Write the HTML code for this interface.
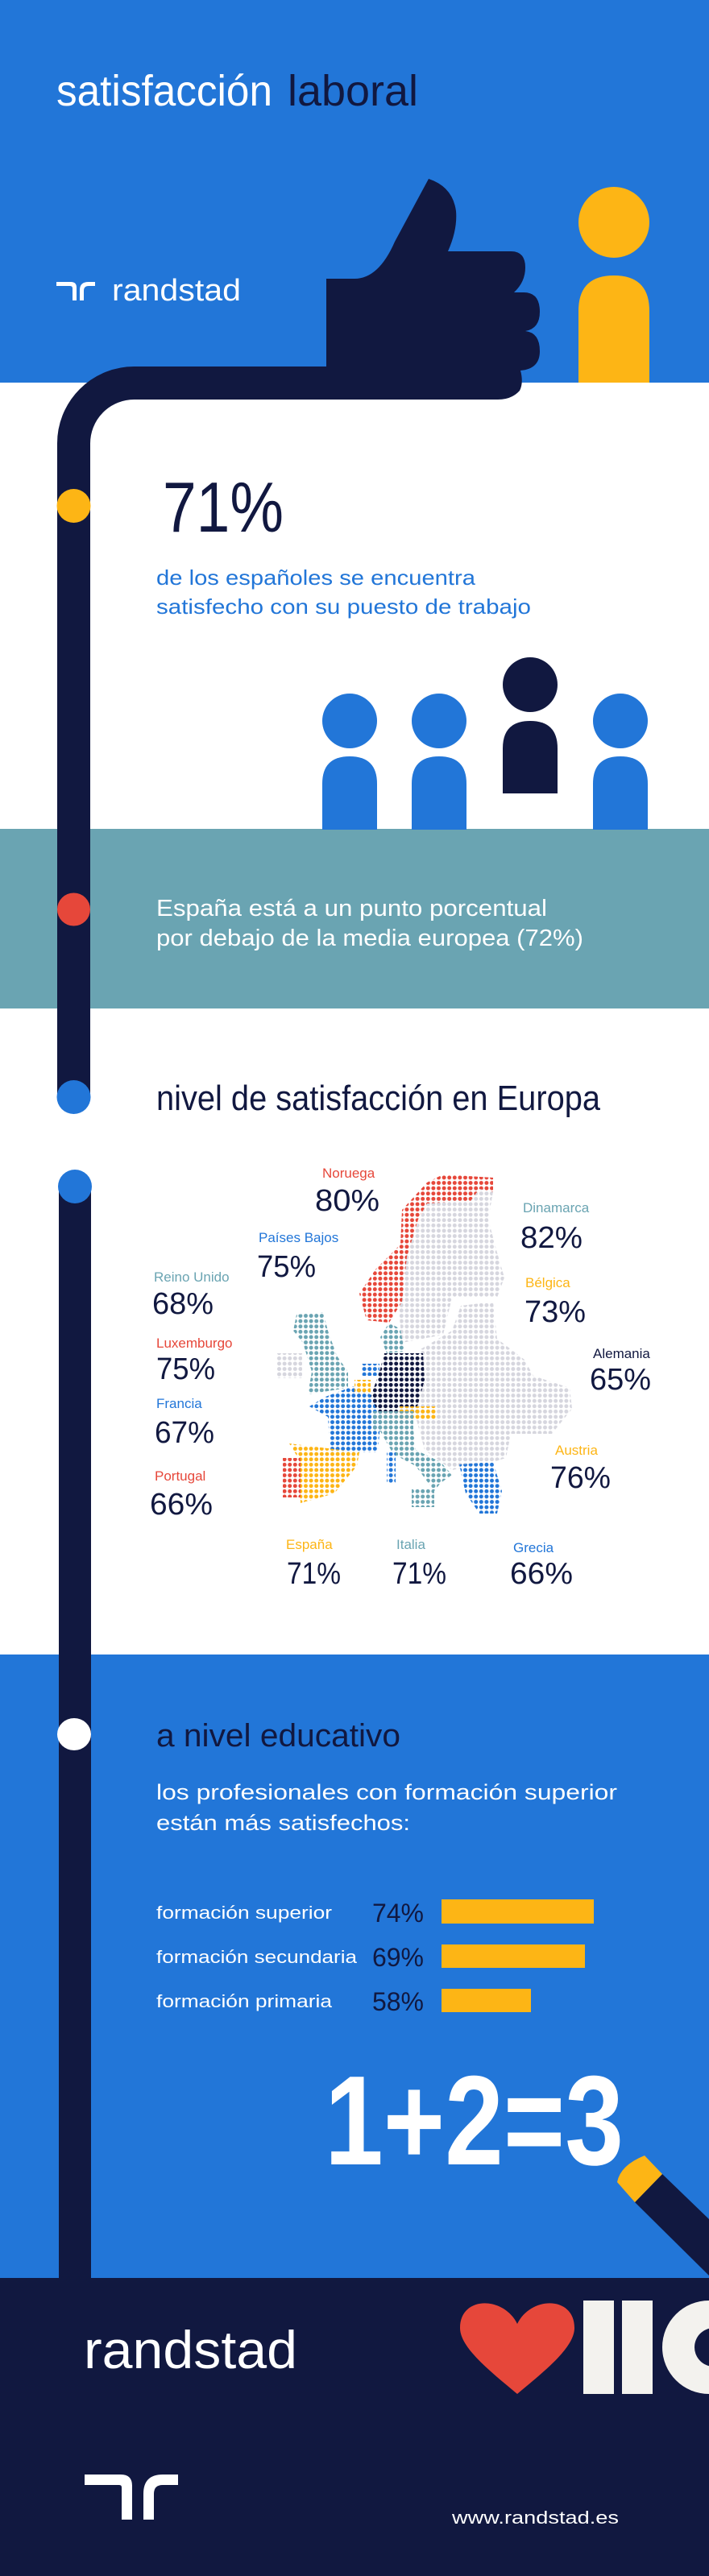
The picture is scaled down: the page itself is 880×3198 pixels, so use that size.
<!DOCTYPE html>
<html><head><meta charset="utf-8"><style>html,body{margin:0;padding:0;background:#fff}svg{display:block}</style></head><body>
<svg width="880" height="3198" viewBox="0 0 880 3198" xmlns="http://www.w3.org/2000/svg" font-family="Liberation Sans, sans-serif">
<defs>
<pattern id="pg" width="6.6" height="6.6" patternUnits="userSpaceOnUse"><circle cx="3.3" cy="3.3" r="2.5" fill="#d6d6de"/></pattern>
<pattern id="pr" width="6.6" height="6.6" patternUnits="userSpaceOnUse"><circle cx="3.3" cy="3.3" r="2.5" fill="#e6473a"/></pattern>
<pattern id="pt" width="6.6" height="6.6" patternUnits="userSpaceOnUse"><circle cx="3.3" cy="3.3" r="2.5" fill="#6aa4b2"/></pattern>
<pattern id="pb" width="6.6" height="6.6" patternUnits="userSpaceOnUse"><circle cx="3.3" cy="3.3" r="2.5" fill="#2276d8"/></pattern>
<pattern id="py" width="6.6" height="6.6" patternUnits="userSpaceOnUse"><circle cx="3.3" cy="3.3" r="2.5" fill="#fdb515"/></pattern>
<pattern id="pn" width="6.6" height="6.6" patternUnits="userSpaceOnUse"><circle cx="3.3" cy="3.3" r="2.5" fill="#111840"/></pattern>
</defs>
<!-- section backgrounds -->
<rect x="0" y="0" width="880" height="475" fill="#2276d8"/>
<rect x="0" y="1029" width="880" height="223" fill="#6aa4b2"/>
<rect x="0" y="2054" width="880" height="774" fill="#2276d8"/>
<rect x="0" y="2828" width="880" height="370" fill="#111840"/>

<!-- header -->
<text x="70" y="131" font-size="54" fill="#fff" textLength="268" lengthAdjust="spacingAndGlyphs">satisfacción</text>
<text x="357" y="131" font-size="54" fill="#111840" textLength="162" lengthAdjust="spacingAndGlyphs">laboral</text>
<g fill="#fff">
<path d="M70,350 H88 Q95,350 95,357 V373 H90 V358 Q90,355 87,355 H70 Z"/>
<path d="M99,373 V360 Q99,350 110,350 H118 V355 H110 Q104,355 104,361 V373 Z"/>
</g>
<text x="139" y="373" font-size="38" fill="#fff" textLength="160" lengthAdjust="spacingAndGlyphs">randstad</text>

<!-- yellow person -->
<circle cx="762" cy="276" r="44" fill="#fdb515"/>
<path d="M718,475 V386 Q718,342 762,342 Q806,342 806,386 V475 Z" fill="#fdb515"/>

<!-- bar + arm -->
<path d="M91.5,1363 V551 A75,75 0 0 1 166.5,475.5 H440" stroke="#111840" stroke-width="41" fill="none"/>
<path d="M405,346 H440 Q470,346 490,300 L532,222 Q562,232 566,262 Q568,285 556,312 H634 Q652,312 652,332 Q652,350 638,363 H650 Q670,363 670,387 Q670,408 652,411 Q670,413 670,436 Q670,458 646,460 Q650,475 645,485 Q635,496 618,496 H405 Z" fill="#111840"/>
<circle cx="91.5" cy="628" r="21" fill="#fdb515"/>

<!-- 71% -->
<text x="202" y="660" font-size="88" fill="#111840" textLength="150" lengthAdjust="spacingAndGlyphs">71%</text>
<text x="194" y="726" font-size="26" fill="#2276d8" textLength="396" lengthAdjust="spacingAndGlyphs">de los españoles se encuentra</text>
<text x="194" y="762" font-size="26" fill="#2276d8" textLength="465" lengthAdjust="spacingAndGlyphs">satisfecho con su puesto de trabajo</text>

<!-- people -->
<g fill="#2276d8">
<circle cx="434" cy="895" r="34"/><path d="M400,1030 V973 Q400,939 434,939 Q468,939 468,973 V1030 Z"/>
<circle cx="545" cy="895" r="34"/><path d="M511,1030 V973 Q511,939 545,939 Q579,939 579,973 V1030 Z"/>
<circle cx="770" cy="895" r="34"/><path d="M736,1030 V973 Q736,939 770,939 Q804,939 804,973 V1030 Z"/>
</g>
<g fill="#111840">
<circle cx="658" cy="850" r="34"/><path d="M624,985 V929 Q624,895 658,895 Q692,895 692,929 V985 Z"/>
</g>

<!-- teal text -->
<rect x="71" y="1029" width="41" height="223" fill="#111840"/>
<circle cx="91.5" cy="1129" r="20.5" fill="#e6473a"/>
<text x="194" y="1137" font-size="29" fill="#fff" textLength="485" lengthAdjust="spacingAndGlyphs">España está a un punto porcentual</text>
<text x="194" y="1174" font-size="29" fill="#fff" textLength="530" lengthAdjust="spacingAndGlyphs">por debajo de la media europea (72%)</text>

<circle cx="91.5" cy="1362" r="21" fill="#2276d8"/>
<text x="194" y="1378" font-size="44" fill="#111840" textLength="551" lengthAdjust="spacingAndGlyphs">nivel de satisfacción en Europa</text>

<!-- second bar -->
<rect x="73" y="1470" width="40" height="1358" fill="#111840"/>
<circle cx="93" cy="1473" r="21" fill="#2276d8"/>

<!-- map -->
<polygon fill="url(#pg)" points="527,1491 589,1473 612,1479 606,1514 617,1555 626,1586 617,1611 561,1611 550,1657 499,1667 494,1616 502,1555 525,1504"/>
<polygon fill="url(#pg)" points="522,1675 561,1652 572,1621 612,1616 617,1662 651,1688 662,1708 707,1723 710,1749 685,1780 634,1780 628,1810 612,1815 561,1825 527,1800 516,1759 527,1708"/>
<rect x="343" y="1680" width="32" height="31" fill="url(#pg)"/>
<polygon fill="url(#pr)" points="550,1458 612,1462 612,1480 595,1476 584,1491 530,1494 519,1514 505,1560 499,1616 483,1642 455,1639 446,1606 466,1576 497,1545 499,1502 530,1468"/>
<polygon fill="url(#pt)" points="368,1632 401,1629 407,1652 418,1683 432,1703 432,1723 382,1731 387,1703 376,1667 364,1652"/>
<polygon fill="url(#pt)" points="483,1642 497,1650 502,1678 480,1680 472,1660"/>
<polygon fill="url(#pb)" points="449,1693 471,1693 471,1708 449,1708"/>
<polygon fill="url(#pb)" points="384,1746 404,1734 438,1721 466,1734 474,1754 471,1780 469,1803 410,1803 407,1759"/>
<rect x="440" y="1713" width="20" height="16" fill="url(#py)"/>
<polygon fill="url(#pn)" points="477,1680 525,1680 527,1713 516,1754 471,1757 460,1734 471,1703"/>
<rect x="494" y="1746" width="47" height="16" fill="url(#py)"/>
<rect x="463" y="1752" width="50" height="25" fill="url(#pt)"/>
<polygon fill="url(#pt)" points="471,1775 513,1775 516,1800 547,1815 561,1831 547,1841 539,1851 516,1820 488,1805"/>
<rect x="511" y="1848" width="28" height="23" fill="url(#pt)"/>
<rect x="480" y="1803" width="11" height="38" fill="url(#pb)"/>
<polygon fill="url(#pb)" points="570,1818 612,1815 623,1851 617,1879 595,1879 578,1854"/>
<polygon fill="url(#py)" points="359,1792 446,1803 443,1820 415,1854 373,1866 370,1810"/>
<rect x="351" y="1810" width="22" height="49" fill="url(#pr)"/>

<!-- map labels -->
<g font-size="17">
<text x="400" y="1462" fill="#e6473a">Noruega</text>
<text x="649" y="1505" fill="#6aa4b2">Dinamarca</text>
<text x="321" y="1542" fill="#2276d8">Países Bajos</text>
<text x="652" y="1598" fill="#fdb515">Bélgica</text>
<text x="191" y="1591" fill="#6aa4b2">Reino Unido</text>
<text x="736" y="1686" fill="#111840">Alemania</text>
<text x="194" y="1673" fill="#e6473a">Luxemburgo</text>
<text x="194" y="1748" fill="#2276d8">Francia</text>
<text x="689" y="1806" fill="#fdb515">Austria</text>
<text x="192" y="1838" fill="#e6473a">Portugal</text>
<text x="355" y="1923" fill="#fdb515">España</text>
<text x="492" y="1923" fill="#6aa4b2">Italia</text>
<text x="637" y="1927" fill="#2276d8">Grecia</text>
</g>
<g font-size="38" fill="#111840">
<text x="391" y="1503" textLength="80" lengthAdjust="spacingAndGlyphs">80%</text>
<text x="646" y="1549" textLength="77" lengthAdjust="spacingAndGlyphs">82%</text>
<text x="319" y="1585" textLength="73" lengthAdjust="spacingAndGlyphs">75%</text>
<text x="651" y="1641" textLength="76" lengthAdjust="spacingAndGlyphs">73%</text>
<text x="189" y="1631" textLength="76" lengthAdjust="spacingAndGlyphs">68%</text>
<text x="732" y="1725" textLength="76" lengthAdjust="spacingAndGlyphs">65%</text>
<text x="194" y="1712" textLength="73" lengthAdjust="spacingAndGlyphs">75%</text>
<text x="192" y="1791" textLength="74" lengthAdjust="spacingAndGlyphs">67%</text>
<text x="683" y="1847" textLength="75" lengthAdjust="spacingAndGlyphs">76%</text>
<text x="186" y="1880" textLength="78" lengthAdjust="spacingAndGlyphs">66%</text>
<text x="356" y="1966" textLength="67" lengthAdjust="spacingAndGlyphs">71%</text>
<text x="487" y="1966" textLength="67" lengthAdjust="spacingAndGlyphs">71%</text>
<text x="633" y="1966" textLength="78" lengthAdjust="spacingAndGlyphs">66%</text>
</g>

<!-- education -->
<ellipse cx="92" cy="2153" rx="21" ry="20" fill="#fff"/>
<text x="194" y="2168" font-size="40" fill="#111840" textLength="303" lengthAdjust="spacingAndGlyphs">a nivel educativo</text>
<text x="194" y="2234" font-size="27" fill="#fff" textLength="572" lengthAdjust="spacingAndGlyphs">los profesionales con formación superior</text>
<text x="194" y="2272" font-size="27" fill="#fff" textLength="315" lengthAdjust="spacingAndGlyphs">están más satisfechos:</text>
<g font-size="22" fill="#fff">
<text x="194" y="2382" textLength="218" lengthAdjust="spacingAndGlyphs">formación superior</text>
<text x="194" y="2437" textLength="249" lengthAdjust="spacingAndGlyphs">formación secundaria</text>
<text x="194" y="2492" textLength="218" lengthAdjust="spacingAndGlyphs">formación primaria</text>
</g>
<g font-size="32" fill="#111840" text-anchor="end">
<text x="526" y="2386">74%</text>
<text x="526" y="2441">69%</text>
<text x="526" y="2496">58%</text>
</g>
<rect x="548" y="2358" width="189" height="30" fill="#fdb515"/>
<rect x="548" y="2414" width="178" height="29" fill="#fdb515"/>
<rect x="548" y="2469" width="111" height="29" fill="#fdb515"/>

<text x="403" y="2687" font-size="158" font-weight="bold" fill="#fff" textLength="371" lengthAdjust="spacingAndGlyphs">1+2=3</text>
<polygon points="822,2699 880,2755 880,2825 788,2734" fill="#111840"/>
<path d="M800,2676 L822,2699 L788,2734 L766,2709 Q770,2688 800,2676 Z" fill="#fdb515"/>

<!-- footer -->
<text x="104" y="2940" font-size="66" fill="#fff" textLength="265" lengthAdjust="spacingAndGlyphs">randstad</text>
<path d="M642,2885 C625,2850 571,2850 571,2890 C571,2915 610,2945 642,2972 C674,2945 713,2915 713,2890 C713,2850 659,2850 642,2885 Z" fill="#e6473a"/>
<rect x="724" y="2856" width="38" height="116" fill="#f3f2ee"/>
<rect x="772" y="2856" width="38" height="116" fill="#f3f2ee"/>
<circle cx="880" cy="2914" r="58" fill="#f3f2ee"/>
<circle cx="886" cy="2914" r="24" fill="#111840"/>
<g fill="#fff">
<path d="M105,3072 H150 Q164,3072 164,3086 V3128 H151 V3088 Q151,3085 148,3085 H105 Z"/>
<path d="M178,3128 V3096 Q178,3072 202,3072 H221 V3085 H202 Q191,3085 191,3096 V3128 Z"/>
</g>
<text x="561" y="3133" font-size="22" fill="#fff" textLength="207" lengthAdjust="spacingAndGlyphs">www.randstad.es</text>
</svg>
</body></html>
